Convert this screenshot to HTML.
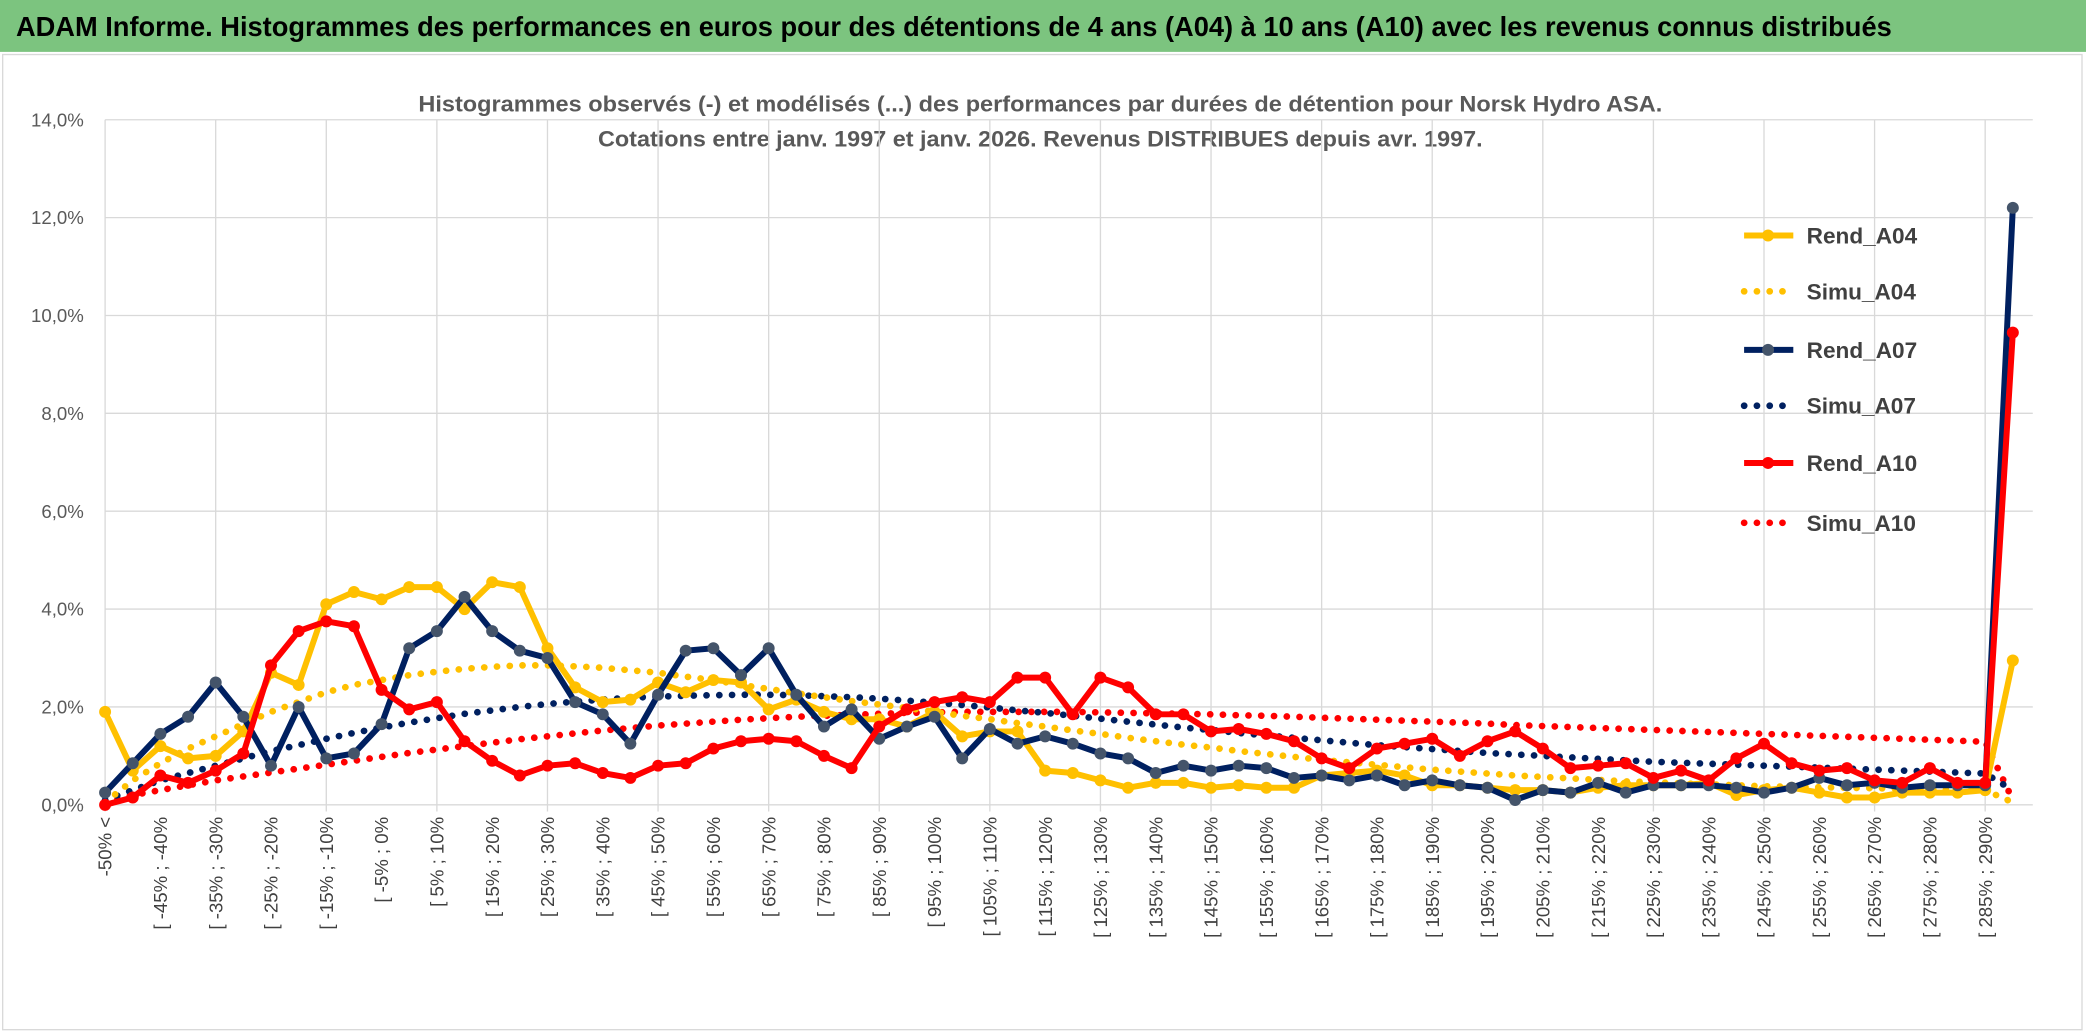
<!DOCTYPE html>
<html><head><meta charset="utf-8">
<style>
html,body{margin:0;padding:0;background:#fff;}
svg{display:block;font-family:"Liberation Sans Narrow","Liberation Sans",sans-serif;}
</style></head>
<body>
<svg id="chart" width="2086" height="1033" viewBox="0 0 1568 776.5" preserveAspectRatio="none" xmlns="http://www.w3.org/2000/svg">
<rect x="0" y="0" width="1568" height="776.5" fill="#fff"/>
<rect x="0" y="0" width="1568" height="39" fill="#7cc47f"/>
<text x="12" y="27" font-size="21" font-weight="bold" fill="#000" textLength="1410" lengthAdjust="spacingAndGlyphs">ADAM Informe. Histogrammes des performances en euros pour des détentions de 4 ans (A04) à 10 ans (A10) avec les revenus connus distribués</text>
<rect x="2" y="41" width="1563" height="733" fill="none" stroke="#d9d9d9" stroke-width="1"/>
<text x="782" y="84" font-size="17" font-weight="bold" fill="#595959" text-anchor="middle" textLength="935" lengthAdjust="spacingAndGlyphs">Histogrammes observés (-) et modélisés (...) des performances par durées de détention pour Norsk Hydro ASA.</text>
<text x="782" y="110" font-size="17" font-weight="bold" fill="#595959" text-anchor="middle" textLength="665" lengthAdjust="spacingAndGlyphs">Cotations entre janv. 1997 et janv. 2026. Revenus DISTRIBUES depuis avr. 1997.</text>
<g id="grid"></g>
<g id="yticks"></g>
<g id="xticks"></g>
<g id="series"></g>
<g id="legend"></g>
</svg>
<script>
const categoriesCount = 70;
const yTicks = [0,2,4,6,8,10,12,14];
const seriesNames = ["Rend_A04","Simu_A04","Rend_A07","Simu_A07","Rend_A10","Simu_A10"];
const rendA04 = [1.9,0.7,1.2,0.95,1.0,1.5,2.7,2.45,4.1,4.35,4.2,4.45,4.45,4.0,4.55,4.45,3.2,2.4,2.1,2.15,2.5,2.3,2.55,2.5,1.95,2.15,1.9,1.75,1.75,1.6,1.9,1.4,1.5,1.5,0.7,0.65,0.5,0.35,0.45,0.45,0.35,0.4,0.35,0.35,0.6,0.65,0.7,0.6,0.4,0.4,0.35,0.3,0.3,0.25,0.35,0.4,0.4,0.4,0.45,0.2,0.3,0.35,0.25,0.15,0.15,0.25,0.25,0.25,0.3,2.95];
const simuA04 = [0.05,0.5,0.85,1.15,1.4,1.65,1.9,2.1,2.3,2.45,2.55,2.65,2.72,2.78,2.82,2.85,2.85,2.83,2.8,2.75,2.7,2.62,2.55,2.45,2.37,2.28,2.2,2.12,2.05,1.98,1.9,1.82,1.75,1.67,1.6,1.52,1.45,1.37,1.3,1.23,1.17,1.1,1.04,0.98,0.92,0.87,0.82,0.77,0.72,0.68,0.64,0.6,0.57,0.54,0.51,0.48,0.46,0.44,0.42,0.4,0.38,0.37,0.36,0.35,0.34,0.33,0.32,0.31,0.3,0.05];
const rendA07 = [0.25,0.85,1.45,1.8,2.5,1.8,0.8,2.0,0.95,1.05,1.65,3.2,3.55,4.25,3.55,3.15,3.0,2.1,1.85,1.25,2.25,3.15,3.2,2.65,3.2,2.25,1.6,1.95,1.35,1.6,1.8,0.95,1.55,1.25,1.4,1.25,1.05,0.95,0.65,0.8,0.7,0.8,0.75,0.55,0.6,0.5,0.6,0.4,0.5,0.4,0.35,0.1,0.3,0.25,0.45,0.25,0.4,0.4,0.4,0.35,0.25,0.35,0.55,0.4,0.45,0.35,0.4,0.4,0.4,12.2];
const simuA07 = [0.1,0.3,0.5,0.65,0.8,0.95,1.1,1.22,1.35,1.47,1.58,1.68,1.77,1.86,1.93,2.0,2.06,2.11,2.15,2.19,2.21,2.23,2.24,2.25,2.25,2.24,2.22,2.2,2.17,2.13,2.09,2.04,1.99,1.93,1.88,1.82,1.76,1.7,1.64,1.58,1.53,1.47,1.42,1.37,1.32,1.27,1.22,1.18,1.14,1.1,1.06,1.03,1.0,0.97,0.94,0.91,0.88,0.86,0.84,0.82,0.8,0.78,0.76,0.74,0.72,0.7,0.68,0.66,0.64,0.3];
const rendA10 = [0.0,0.15,0.6,0.45,0.7,1.05,2.85,3.55,3.75,3.65,2.35,1.95,2.1,1.3,0.9,0.6,0.8,0.85,0.65,0.55,0.8,0.85,1.15,1.3,1.35,1.3,1.0,0.75,1.6,1.95,2.1,2.2,2.1,2.6,2.6,1.85,2.6,2.4,1.85,1.85,1.5,1.55,1.45,1.3,0.95,0.75,1.15,1.25,1.35,1.0,1.3,1.5,1.15,0.75,0.8,0.85,0.55,0.7,0.5,0.95,1.25,0.85,0.7,0.75,0.5,0.45,0.75,0.45,0.45,9.65];
const simuA10 = [0.05,0.2,0.3,0.4,0.5,0.58,0.66,0.74,0.82,0.9,0.98,1.06,1.13,1.2,1.27,1.34,1.4,1.46,1.52,1.57,1.62,1.66,1.7,1.74,1.77,1.8,1.82,1.84,1.86,1.88,1.89,1.9,1.9,1.9,1.9,1.9,1.89,1.88,1.87,1.86,1.85,1.83,1.82,1.8,1.78,1.76,1.74,1.72,1.7,1.68,1.66,1.63,1.61,1.59,1.57,1.55,1.53,1.51,1.49,1.47,1.45,1.43,1.41,1.39,1.37,1.35,1.33,1.31,1.29,0.1];

const NS="http://www.w3.org/2000/svg";
const X0=79, X1=1513, Y0=605, Y1=90, YMAX=14;
function xs(i){return X0+(X1-X0)*i/(categoriesCount-1);}
function ys(v){return Y0-(Y0-Y1)*v/YMAX;}
function mk(tag,attrs,parent){const e=document.createElementNS(NS,tag);for(const k in attrs)e.setAttribute(k,attrs[k]);parent.appendChild(e);return e;}
function catLabel(i){if(i===0)return "-50% <";const lo=-50+5*(i-1);return "[ "+lo+"% ; "+(lo+5)+"%";}

const grid=document.getElementById('grid');
yTicks.forEach(t=>{
  const l=mk('line',{x1:X0,x2:1528,y1:ys(t),y2:ys(t),stroke:'#d9d9d9','stroke-width':1},grid);
  
  
  const tx=mk('text',{x:63,y:ys(t)+5,'font-size':14,fill:'#595959','text-anchor':'end'},document.getElementById('yticks'));
  tx.textContent=t.toFixed(1).replace('.',',')+'%';
  
  
});
for(let i=0;i<categoriesCount-1;i+=4){
  const l=mk('line',{x1:xs(i),x2:xs(i),y1:Y1,y2:Y0+5,stroke:'#d9d9d9','stroke-width':1},grid);
  
  
}
for(let i=0;i<categoriesCount-1;i+=2){
  const x=xs(i)+5, y=614;
  const tx=mk('text',{x:x,y:y,'font-size':14,fill:'#404040','text-anchor':'end',transform:'rotate(-90 '+x+' '+y+')'},document.getElementById('xticks'));
  tx.textContent=catLabel(i);
  
  
}
const ser=document.getElementById('series');
function drawSolid(data,color,mcol,name){
  const g=mk('g',{},ser);
  
  
  const p=mk('polyline',{points:data.map((v,i)=>xs(i)+','+ys(v)).join(' '),fill:'none',stroke:color,'stroke-width':4.5,'stroke-linejoin':'round'},g);
  
  
  data.forEach((v,i)=>{
    const c=mk('circle',{cx:xs(i),cy:ys(v),r:4.5,fill:mcol},g);
    
    
  });
}
function drawDotted(data,color,name){
  const p=mk('polyline',{points:data.map((v,i)=>xs(i)+','+ys(v)).join(' '),fill:'none',stroke:color,'stroke-width':5,'stroke-dasharray':'0.1 9.5','stroke-linecap':'round'},ser);
  
  
}
drawDotted(simuA10,'#ff0000','simu-a10-line');
drawDotted(simuA07,'#002060','simu-a07-line');
drawDotted(simuA04,'#ffc000','simu-a04-line');
drawSolid(rendA04,'#ffc000','#ffc000','rend-a04-series');
drawSolid(rendA07,'#002060','#44546a','rend-a07-series');
drawSolid(rendA10,'#ff0000','#ff0000','rend-a10-series');

const leg=document.getElementById('legend');
const legY=[177,219,263,305,348,393];
const legStyle=[['#ffc000',false],['#ffc000',true],['#002060',false],['#002060',true],['#ff0000',false],['#ff0000',true]];
seriesNames.forEach((n,k)=>{
  const g=mk('g',{},leg);
  
  
  const [c,dot]=legStyle[k];
  const y=legY[k];
  if(dot){mk('line',{x1:1311,x2:1348,y1:y,y2:y,stroke:c,'stroke-width':5,'stroke-dasharray':'0.1 9.5','stroke-linecap':'round'},g);}
  else{mk('line',{x1:1311,x2:1348,y1:y,y2:y,stroke:c,'stroke-width':4.5},g);
       mk('circle',{cx:1329,cy:y,r:4.5,fill:k===2?'#44546a':c},g);}
  const t=mk('text',{x:1358,y:y+6,'font-size':17,'font-weight':'bold',fill:'#404040'},g);
  t.textContent=n;
});
</script>
</body></html>
